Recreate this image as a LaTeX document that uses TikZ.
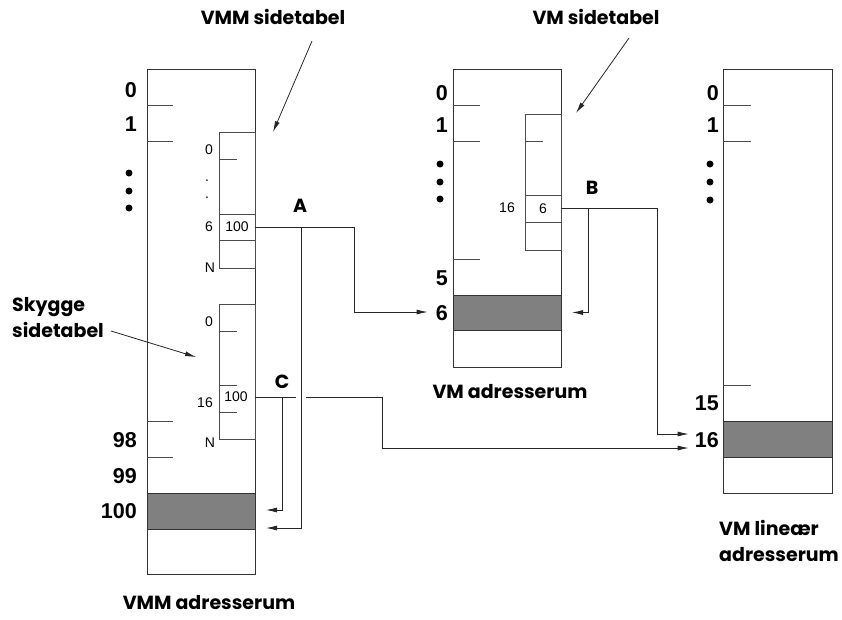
\documentclass[tikz,border=0pt]{standalone}
\usepackage{fontspec}
\setmainfont{Liberation Sans}
\newfontfamily\capfont{Poppins}
\usetikzlibrary{arrows.meta, positioning, calc}

\begin{document}
\begin{tikzpicture}[x=1pt, y=-1pt,
    col/.style={draw=black!80, line width=0.8pt, minimum width=108, inner sep=0, outer sep=0},
    page/.style={draw=black!80, line width=0.8pt, fill=black!50, minimum width=108, minimum height=36, inner sep=0, outer sep=0},
    tbl/.style={draw=black!70, line width=0.8pt, minimum width=36, inner sep=0, outer sep=0},
    entry/.style={tbl, font=\fontsize{14}{16}\selectfont},
    tickline/.style={draw=black!70, line width=0.8pt},
    num/.style={anchor=east, inner sep=0, font=\bfseries\fontsize{21.5}{24}\selectfont},
    small/.style={inner sep=0, font=\fontsize{14}{16}\selectfont},
    captext/.style={inner sep=0, font=\capfont\bfseries\fontsize{19}{26}\selectfont},
    dot/.style={circle, fill=black, inner sep=0, minimum size=7},
    arr/.style={draw=black!85, line width=0.8pt, -{Latex[length=11pt, width=5pt]}},
    plainline/.style={draw=black!85, line width=0.8pt}
  ]
  \useasboundingbox (0,0) rectangle (842,619);

  % VMM address space
  \node[col, minimum height=505] (vmm) at (201,321.5) {};
  \node[page] (vmmpage) at (201,511) {};
  \foreach \y in {105,141,421,457} \draw[tickline] (147,\y) -- ++(26,0);
  \node[num] (vmm0) at (137,90) {0};
  \node[num] (vmm1) at (137,124) {1};
  \foreach \y [count=\i] in {173,191,208} \node[dot] (vmmdot\i) at (129,\y) {};
  \node[num] (vmm98) at (137,440) {98};
  \node[num] (vmm99) at (137,476) {99};
  \node[num] (vmm100) at (137,511) {100};

  % VMM page table
  \node[tbl, minimum height=136] (vmmtbl) at (237,200) {};
  \node[entry, minimum height=26] (entA) at (237,227) {100};
  \draw[tickline] (219,159) -- ++(18,0);
  \node[small] (vmmt0) at (209,150) {0};
  \node[small] (vmmtdot1) at (207,181) {.};
  \node[small] (vmmtdot2) at (207,198) {.};
  \node[small] (vmmt6) at (209,227) {6};
  \node[small] (vmmtN) at (210,268) {N};

  % shadow page table
  \node[tbl, minimum height=135] (skytbl) at (237,371.5) {};
  \foreach \y in {331,385,412} \draw[tickline] (219,\y) -- ++(18,0);
  \node[small] (entC) at (236,397) {100};
  \node[small] (sky0) at (209,322) {0};
  \node[small] (sky16) at (205,403) {16};
  \node[small] (skyN) at (210,443) {N};

  % VM address space
  \node[col, minimum height=298] (vm) at (507,218) {};
  \node[page, minimum height=35] (vmpage) at (507,312.5) {};
  \foreach \y in {105,141,259} \draw[tickline] (453,\y) -- ++(27,0);
  \node[num] (vm0) at (448,93) {0};
  \node[num] (vm1) at (448,125) {1};
  \foreach \y [count=\i] in {164,182,199} \node[dot] (vmdot\i) at (440,\y) {};
  \node[num] (vm5) at (448,278) {5};
  \node[num] (vm6) at (448,313) {6};

  % VM page table
  \node[tbl, minimum height=136] (vmtbl) at (543,182) {};
  \node[entry, minimum height=27] (entB) at (543,208.5) {6};
  \draw[tickline] (525,141) -- ++(18,0);
  \node[small] (vmt16) at (507,208) {16};

  % VM linear address space
  \node[col, minimum width=109, minimum height=424] (lin) at (777.5,281) {};
  \node[page, minimum width=109] (linpage) at (777.5,439) {};
  \foreach \y in {105,141,385} \draw[tickline] (723,\y) -- ++(28,0);
  \node[num] (lin0) at (719,93) {0};
  \node[num] (lin1) at (719,125) {1};
  \foreach \y [count=\i] in {164,182,200} \node[dot] (lindot\i) at (710,\y) {};
  \node[num] (lin15) at (719,403) {15};
  \node[num] (lin16) at (719,440) {16};

  % captions
  \node[captext] (capvmm) at (273,17) {VMM sidetabel};
  \node[captext] (capvm) at (596,17) {VM sidetabel};
  \node[captext, align=left, anchor=west] (capsky) at (12,318) {Skygge\\sidetabel};
  \node[captext] (capvmad) at (510,392) {VM adresserum};
  \node[captext] (capvmmad) at (209,603) {VMM adresserum};
  \node[captext, align=left, anchor=west] (caplin) at (719,541) {VM lineær\\adresserum};
  \node[captext] (labA) at (300,206) {A};
  \node[captext] (labB) at (592,188) {B};
  \node[captext] (labC) at (282,382) {C};

  \coordinate (vmmtail) at (312,41);
  \coordinate (vmtail) at (629,38);
  \coordinate (skytail) at (111,331);
  \draw[arr] (vmmtail) -- ($(vmmtbl.north east)+(18,0)$);
  \draw[arr] (vmtail) -- ($(vmtbl.north east)+(15,-1)$);
  \draw[arr] (skytail) -- ($(skytbl.west)+(-23,-14.5)$);

  % translation A
  \coordinate (ajoin) at ($(entA.east)+(46,0)$);
  \coordinate (aturn) at ($(entA.east)+(99,0)$);
  \draw[arr] (entA.east) -- (aturn) |- ($(vm6.west)+(-8,-1)$);
  \draw[arr] (ajoin) |- ($(vmmpage.south east)+(11,-1)$);

  % translation B
  \coordinate (tipB) at ($(lin16.west)+(-6,-6)$);
  \coordinate (tipC) at ($(lin16.west)+(-6,8)$);
  \coordinate (bjoin) at ($(entB.east)+(27,0)$);
  \coordinate (bturn) at ($(tipB)+(-31,0)$);
  \draw[arr] (entB.east) -| (bturn) -- (tipB);
  \draw[arr] (bjoin) |- ($(vmpage.east)+(11,0)$);

  % translation C
  \coordinate (cjoin) at ($(vmm.east |- entC)+(27,0)$);
  \coordinate (cturn) at ($(tipC)+(-306,0)$);
  \draw[plainline] (vmm.east |- entC) -- ($(ajoin |- entC)+(-5,0)$);
  \draw[arr] ($(ajoin |- entC)+(5,0)$) -| (cturn) -- (tipC);
  \draw[arr] (cjoin) |- ($(vmmpage.east)+(11,-1)$);
\end{tikzpicture}
\end{document}
